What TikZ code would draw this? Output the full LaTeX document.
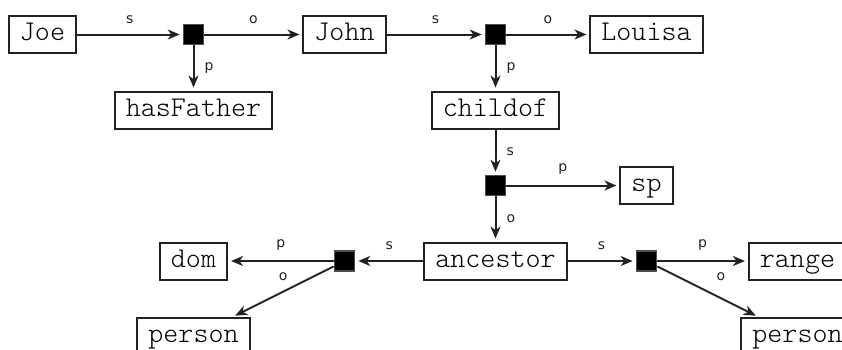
\documentclass[tikz,border=0pt]{standalone}
\usepackage{fontspec}
\newfontfamily\lblfont{DejaVu Sans}
\newfontfamily\termfont{Latin Modern Mono Light}
\usetikzlibrary{arrows.meta}
\definecolor{ink}{HTML}{222222}
\tikzset{
  term/.style={draw=ink, line width=1pt, fill=white, font=\termfont\fontsize{14.3}{16}\selectfont,
    text height=9pt, text depth=2.8pt, inner ysep=3.35pt, inner xsep=5.5pt},
  blank/.style={draw=ink!80, fill=black, line width=0.8pt, minimum size=10pt, inner sep=0pt},
  conn/.style={draw=ink, line width=1pt, -{Stealth[length=6pt,width=5pt,inset=1.8pt]}, shorten >=1.5pt},
  lbl/.style={font=\lblfont\fontsize{7}{8}\selectfont, inner sep=0pt, text=ink}
}
\begin{document}
\begin{tikzpicture}[x=0.5pt,y=-0.5pt]
\useasboundingbox (0,0) rectangle (842,349);
\clip (0,0) rectangle (842,349);
% columns 42.5,193.5,344.5,495.5,646.5,797.5 ; rows 34.5,110,185.5,261,336.5
\node[term]  (joe)       at (42.5,34.5)  {Joe};
\node[blank] (b1)        at (193.5,34.5) {};
\node[term]  (john)      at (344.5,34.5) {John};
\node[blank] (b2)        at (495.5,34.5) {};
\node[term]  (louisa)    at (646.5,34.5) {Louisa};
\node[term]  (hasfather) at (193.5,110)  {hasFather};
\node[term]  (childof)   at (495.5,110)  {childof};
\node[blank] (b3)        at (495.5,185.5) {};
\node[term]  (sp)        at (646.5,185.5) {sp};
\node[term]  (dom)       at (193.5,261)  {dom};
\node[blank] (bl)        at (344.5,261)  {};
\node[term]  (ancestor)  at (495.5,261)  {ancestor};
\node[blank] (br)        at (646.5,261)  {};
\node[term]  (range)     at (797.5,261)  {range};
\node[term]  (personl)   at (193.5,336.5) {person};
\node[term]  (personr)   at (797.5,336.5) {person};

\draw[conn] (joe) -- node[lbl, above=5pt] {s} (b1);
\draw[conn] (b1) -- node[lbl, above=5pt] {o} (john);
\draw[conn] (b1) -- node[lbl, right=5pt] {p} (hasfather);
\draw[conn] (john) -- node[lbl, above=5pt] {s} (b2);
\draw[conn] (b2) -- node[lbl, above=5pt] {o} (louisa);
\draw[conn] (b2) -- node[lbl, right=5pt] {p} (childof);
\draw[conn] (childof) -- node[lbl, right=5pt] {s} (b3);
\draw[conn] (b3) -- node[lbl, above=5pt] {p} (sp);
\draw[conn] (b3) -- node[lbl, right=5pt] {o} (ancestor);
\draw[conn] (ancestor) -- node[lbl, above=5pt] {s} (bl);
\draw[conn] (bl) -- node[lbl, above=5pt] {p} (dom);
\draw[conn] (bl) -- node[lbl, above=5pt] {o} (personl);
\draw[conn] (ancestor) -- node[lbl, above=5pt] {s} (br);
\draw[conn] (br) -- node[lbl, above=5pt] {p} (range);
\draw[conn] (br) -- node[lbl, above=5pt, xshift=6.5pt] {o} (personr);
\end{tikzpicture}
\end{document}
